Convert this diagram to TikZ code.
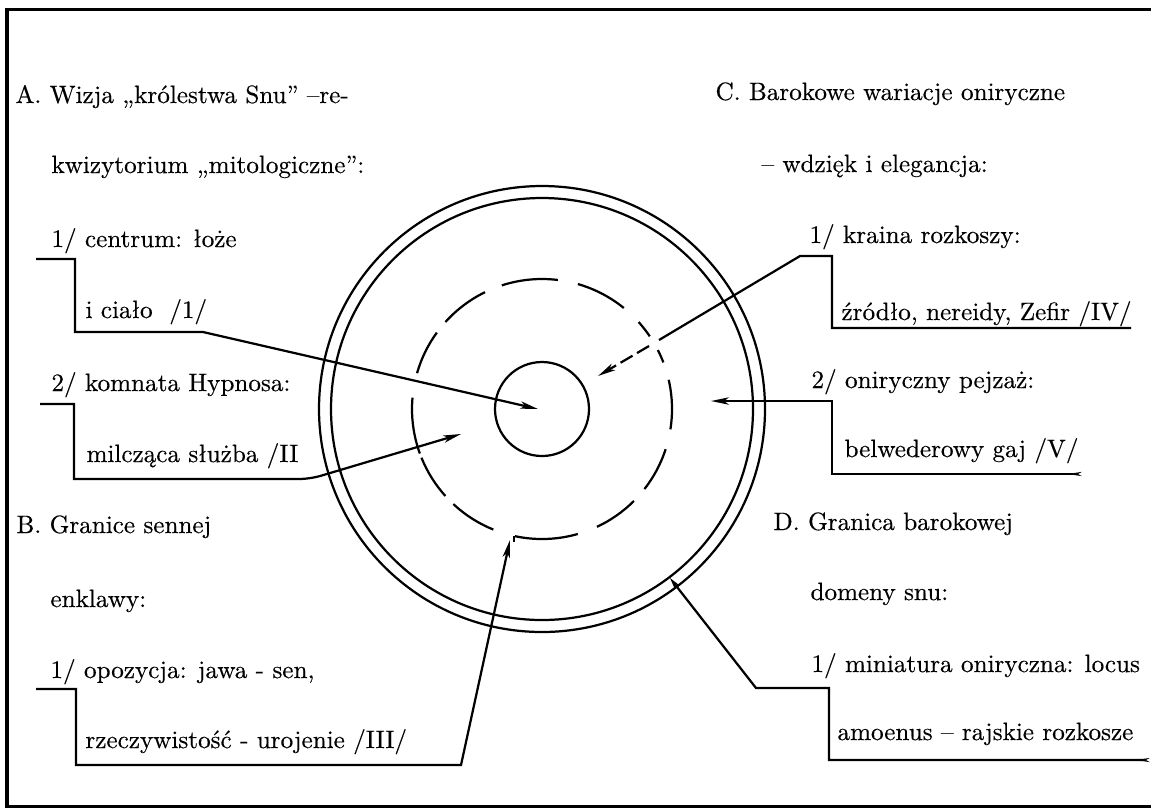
\documentclass[tikz,border=0pt]{standalone}
\usepackage{fontspec}
\newfontfamily\scanfont{Latin Modern Roman}[FakeBold=0.35]
\usetikzlibrary{arrows.meta}
\tikzset{
  lbl/.style={anchor=base west, inner sep=0pt, font=\scanfont\fontsize{9.6}{12}\selectfont},
  conn/.style={line width=0.85pt, line join=miter},
  ringline/.style={line width=0.85pt},
  bigtip/.style={-{Stealth[length=6.8pt,width=2.8pt,inset=1.8pt]}},
}
\begin{document}
\begin{tikzpicture}[x=0.382pt,y=-0.382pt]
\useasboundingbox (0,0) rectangle (1151,810);
\fill[white] (0,0) rectangle (1151,810);
% frame (open on the right)
\coordinate (f1) at (1151,9);
\coordinate (f2) at (7,9);
\coordinate (f3) at (7,806);
\coordinate (f4) at (1151,806);
\draw[line width=1.15pt] (f1) -- (f2) -- (f3) -- (f4);

% circles
\coordinate (O) at (542,409);
\draw[ringline] (O) circle[radius=223];
\draw[ringline] (O) circle[radius=211];
\draw[ringline] (O) circle[radius=47];
\foreach \a/\b in {-108/-83,-74/-51,-42/-34,-27/-21,-13/9,18/38,45/65,74/102,112/133,138/158,160/185,196/216,222/244}
  \draw[ringline] (O) ++(\a:130) arc[start angle=\a, end angle=\b, radius=130];
\coordinate (hk1) at (514,536);
\coordinate (hk2) at (514,542);
\draw[ringline] (hk1) -- (hk2);

% left texts
\node[lbl] (tA)  at (15,103)  {A. Wizja „królestwa Snu” –re-};
\node[lbl] (tA2) at (51,173)  {kwizytorium „mitologiczne”:};
\node[lbl] (tA3) at (51,247)  {1/ centrum: łoże};
\node[lbl] (tA4) at (85,318)  {i ciało\ \ /1/};
\node[lbl] (tA5) at (51,391)  {2/ komnata Hypnosa:};
\node[lbl] (tA6) at (86,462)  {milcząca służba /II};
\node[lbl] (tB)  at (16,533)  {B. Granice sennej};
\node[lbl] (tB2) at (50,607)  {enklawy:};
\node[lbl] (tB3) at (50,678)  {1/ opozycja: jawa - sen,};
\node[lbl] (tB4) at (85,748)  {rzeczywistość - urojenie /III/};

% right texts
\node[lbl] (tC)  at (715,100) {C. Barokowe wariacje oniryczne};
\node[lbl] (tC2) at (761,172) {– wdzięk i elegancja:};
\node[lbl] (tC3) at (809,243) {1/ kraina rozkoszy:};
\node[lbl] (tC4) at (841,320) {źródło, nereidy, Zefir /IV/};
\node[lbl] (tC5) at (811,388) {2/ oniryczny pejzaż:};
\node[lbl] (tC6) at (844,457) {belwederowy gaj /V/};
\node[lbl] (tD)  at (773,530) {D. Granica barokowej};
\node[lbl] (tD2) at (810,600) {domeny snu:};
\node[lbl] (tD3) at (811,672) {1/ miniatura oniryczna: locus};
\node[lbl] (tD4) at (837,740) {amoenus – rajskie rozkosze};

% connector A1
\coordinate (a1s) at (36,259);
\coordinate (a1b) at (75,259);
\coordinate (a1c) at (75,332);
\coordinate (a1d) at (203,332);
\coordinate (a1t) at (538,409);
\draw[conn,bigtip] (a1s) -- (a1b) -- (a1c) -- (a1d) -- (a1t);

% connector A2
\coordinate (a2s) at (40,404);
\coordinate (a2b) at (74,404);
\coordinate (a2c) at (74,479);
\coordinate (a2d) at (310,479);
\coordinate (a2t) at (461,434);
\draw[conn,bigtip] (a2s) -- (a2b) -- (a2c) [rounded corners=4pt] -- (a2d) -- (a2t);

% connector B1
\coordinate (b1s) at (36,689);
\coordinate (b1b) at (76,689);
\coordinate (b1c) at (76,765);
\coordinate (b1d) at (461,765);
\coordinate (b1t) at (510,540);
\draw[conn,bigtip] (b1s) -- (b1b) -- (b1c) -- (b1d) -- (b1t);

% connector C1
\coordinate (c1s) at (1131,328);
\coordinate (c1b) at (832,328);
\coordinate (c1c) at (832,256);
\coordinate (c1d) at (800,256);
\coordinate (c1e) at (659,340);
\coordinate (c1f) at (649,346);
\coordinate (c1t) at (598,376);
\draw[conn] (c1s) -- (c1b) -- (c1c) -- (c1d) -- (c1e);
\draw[conn,bigtip,dash pattern=on 5.3pt off 2pt] (c1f) -- (c1t);

% connector C2
\coordinate (c2t) at (711,401);
\coordinate (c2a) at (832,401);
\coordinate (c2b) at (832,474);
\coordinate (c2e) at (1082,474);
\draw[conn,{Stealth[length=6.8pt,width=2.8pt,inset=1.8pt]}-{Stealth[length=5pt,width=1.6pt]}] (c2t) -- (c2a) -- (c2b) -- (c2e);

% connector D1
\coordinate (d1t) at (670,578);
\coordinate (d1a) at (756,688);
\coordinate (d1b) at (829,688);
\coordinate (d1c) at (829,760);
\coordinate (d1e) at (1150,760);
\draw[conn,{Stealth[length=4.4pt,width=2.2pt]}-{Stealth[length=5pt,width=1.6pt]}] (d1t) -- (d1a) -- (d1b) -- (d1c) -- (d1e);
\end{tikzpicture}
\end{document}
